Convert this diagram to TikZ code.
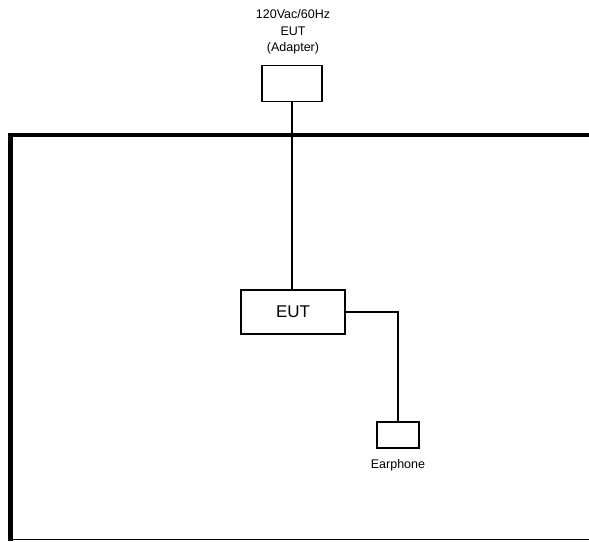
\documentclass[tikz,border=0pt]{standalone}
\usepackage{fontspec}
\setmainfont{Liberation Sans}
\usetikzlibrary{positioning}

\begin{document}
\begin{tikzpicture}[x=1pt,y=-1pt,
        box/.style={draw,line width=1.3pt,inner sep=0pt},
        lbl/.style={font=\fontsize{12.5}{16.5}\selectfont,align=center,inner sep=0pt},
        wire/.style={line width=1.3pt}]
    \useasboundingbox (0,0) rectangle (589,541);
    % frame
    \draw[line width=4.5pt] (10.5,541) -- (10.5,135) -- (589,135);
    \draw[line width=1.3pt] (10.5,539.5) -- (589,539.5);
    % parts
    \node[box,minimum width=60pt,minimum height=36pt] (adapter) at (292,83.5) {};
    \node[lbl] (supply) at (293,32) {120Vac/60Hz\\EUT\\(Adapter)};
    \node[box,minimum width=104pt,minimum height=44pt,font=\fontsize{17}{20}\selectfont] (eut) at (293,312) {EUT};
    \node[box,minimum width=42pt,minimum height=26pt] (ear) at (398,435) {};
    \node[lbl] (earlbl) at (398,465) {Earphone};
    % cables
    \draw[wire] (adapter.south) -- (adapter.south |- eut.north);
    \draw[wire] (eut.east) -| (ear.north);
\end{tikzpicture}
\end{document}
